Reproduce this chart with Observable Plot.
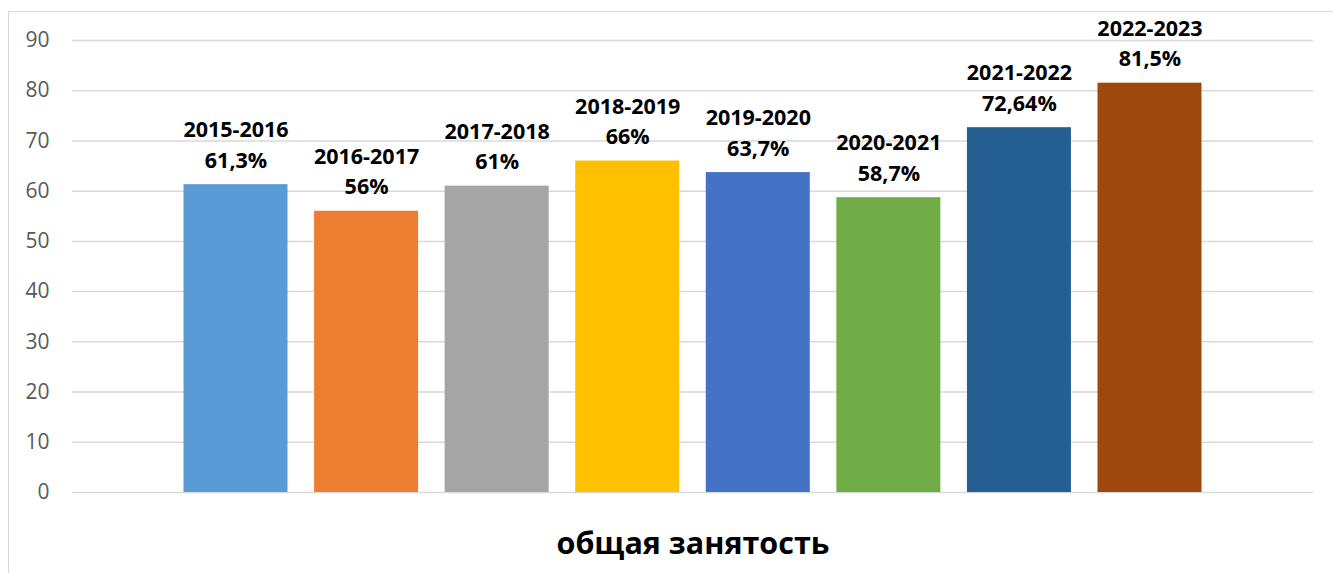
<!DOCTYPE html>
<html>
<head>
<meta charset="utf-8">
<script src="https://cdn.jsdelivr.net/npm/d3@7"></script>
<script src="https://cdn.jsdelivr.net/npm/@observablehq/plot@0.6"></script>
<style>
  html, body { margin: 0; padding: 0; background: #fff; }
  #wrap { position: relative; width: 1333px; height: 573px; overflow: hidden; }
  #border { position: absolute; left: 8px; top: 11px; width: 1400px; height: 700px;
            border-left: 1.5px solid #d9d9d9; border-top: 1.5px solid #d9d9d9; pointer-events: none; }
</style>
</head>
<body>
<div id="wrap"><div id="border"></div></div>
<script>
const periods = ["2015-2016", "2016-2017", "2017-2018", "2018-2019", "2019-2020", "2020-2021", "2021-2022", "2022-2023"];
const values = [61.3, 56, 61, 66, 63.7, 58.7, 72.64, 81.5];
const yTicks = [0, 10, 20, 30, 40, 50, 60, 70, 80, 90];
const palette = ["#5B9BD5", "#ED7D31", "#A5A5A5", "#FFC000", "#4472C4", "#70AD47", "#255E91", "#9E480E"];
const axisTitle = "общая занятость";

const data = periods.map((p, i) => ({period: p, value: values[i]}));
const fmt = v => String(v).replace(".", ",") + "%";

const chart = Plot.plot({
  width: 1333,
  height: 573,
  marginLeft: 72,
  marginRight: 20,
  marginTop: 40,
  marginBottom: 81,
  style: {fontFamily: "'Open Sans', sans-serif", background: "transparent"},
  x: {domain: periods, paddingInner: 0.2035, paddingOuter: 0.854, round: false, axis: null},
  y: {domain: [0, 90], ticks: yTicks, label: null},
  color: {domain: periods, range: palette},
  marks: [
    Plot.gridY(yTicks, {stroke: "#d9d9d9", strokeOpacity: 1, strokeWidth: 1.5}),
    Plot.axisY(yTicks, {tickSize: 0, tickPadding: 23, fontSize: 21, fill: "#595959", label: null}),
    Plot.barY(data, {x: "period", y: "value", fill: "period"}),
    Plot.text(data, {
      x: "period", y: "value",
      text: d => `${d.period}\n${fmt(d.value)}`,
      lineAnchor: "bottom", lineHeight: 1.42, dy: -17,
      fontSize: 21.5, fontWeight: "bold", fill: "#000"
    }),
    Plot.text([axisTitle], {
      frameAnchor: "bottom", dy: 61, fontSize: 30.5, fontWeight: "bold", fill: "#000"
    })
  ]
});
document.getElementById("wrap").prepend(chart);
chart.style.position = "absolute";
chart.style.left = "0";
chart.style.top = "0";
</script>
</body>
</html>
